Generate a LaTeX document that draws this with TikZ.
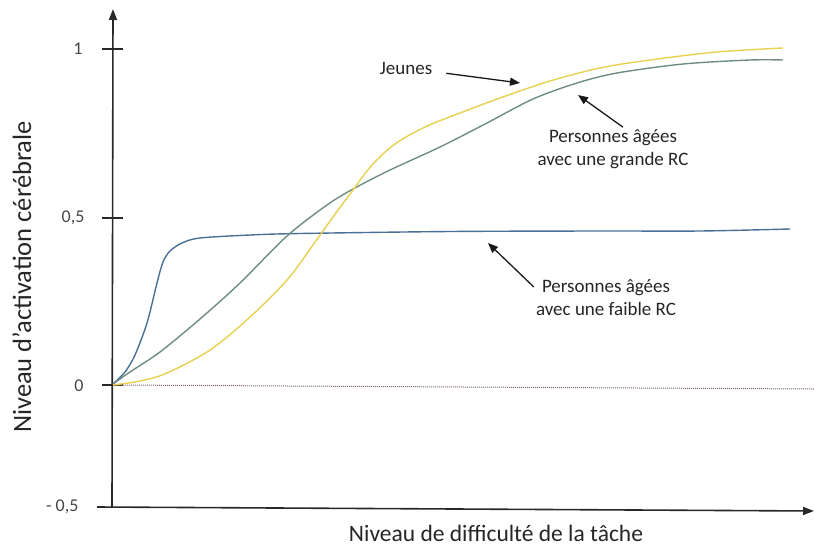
\documentclass[tikz,border=0pt]{standalone}
\usepackage{fontspec}
\setmainfont{Carlito}
\usepackage{tikz}
\usetikzlibrary{arrows.meta}

\definecolor{axisgray}{RGB}{40,40,40}
\definecolor{labelgray}{RGB}{70,70,70}
\definecolor{faiblecol}{RGB}{74,112,150}
\definecolor{grandecol}{RGB}{110,140,130}
\definecolor{jeunescol}{RGB}{232,208,80}
\definecolor{zerocol}{RGB}{130,105,105}

\begin{document}
\begin{tikzpicture}[x=1pt, y=-1pt,
    axis/.style={draw=axisgray, line width=1.6pt},
    ticklabel/.style={text=labelgray, font=\fontsize{18}{20}\selectfont},
    curve/.style={line width=1.4pt},
    note/.style={align=center, text=black!85, inner sep=2pt,
      font=\fontsize{19}{23}\selectfont},
    pointer/.style={draw=black!90, line width=1.3pt,
      -{Triangle[length=10pt,width=8pt]}}]
        \useasboundingbox (0,0) rectangle (814,554);

        % Axes
        \draw[axis, -{Triangle[length=11pt,width=8pt]}] (112,507) -- (113,9);
        \draw[axis, -{Triangle[length=11pt,width=8pt]}] (97,507) -- (814,511);

        % Ticks on the vertical axis
        \foreach \y in {49,218,385}
            \draw[axis, line width=1.4pt] (102,\y) -- (123,\y);

        % Tick labels
        \node[ticklabel] (tone) at (78,49) {1};
        \node[ticklabel] (thalf) at (73,218) {0,5};
        \node[ticklabel] (tzero) at (79,386) {0};
        \node[ticklabel, anchor=east] (tminus) at (82,507) {- 0,5};

        % Axis titles
        \node[rotate=90, text=black!85, font=\fontsize{26.5}{30}\selectfont]
            (ylab) at (22,277) {Niveau d'activation cérébrale};
        \node[text=black!85, font=\fontsize{23.5}{26}\selectfont]
            (xlab) at (496,533) {Niveau de difficulté de la tâche};

        % Zero level (dotted)
        \draw[zerocol, line width=1pt, dash pattern=on 1pt off 1pt]
            (113,385) -- (814,389);

        % Personnes agees, faible RC
        \draw[curve, faiblecol] plot[smooth, tension=0.5] coordinates {
            (113,384) (125,372) (135,355) (147,323) (157,283) (163,262)
            (170,251) (182,243) (200,238) (250,235) (300,233.5)
            (450,231.5) (600,231) (700,231) (790,229)};

        % Personnes agees, grande RC
        \draw[curve, grandecol] plot[smooth, tension=0.5] coordinates {
            (113,384) (130,372) (160,352) (200,319) (240,283) (287,236)
            (327,205) (353,189) (390,170) (440,147) (487,123) (533,99)
            (577,83) (617,73) (683,64) (750,60) (783,60)};

        % Jeunes
        \draw[curve, jeunescol] plot[smooth, tension=0.55] coordinates {
            (113,385) (140,381) (167,373) (210,350) (250,317) (287,280)
            (313,245) (333,217) (353,190) (372,165) (395,144) (425,127)
            (460,113) (500,98) (550,81) (600,68) (650,60) (717,52) (783,48)};

        % Annotations
        \node[note] (jeunes) at (406,68) {Jeunes};
        \node[note] (grande) at (613,149) {Personnes âgées\\avec une grande RC};
        \node[note] (faible) at (606,298) {Personnes âgées\\avec une faible RC};

        \coordinate (jtip) at (520,83);
        \coordinate (gtip) at (578,95);
        \coordinate (ftip) at (488,243);

        \draw[pointer, shorten <=12pt] (jeunes) -- (jtip);
        \draw[pointer] ([xshift=10pt]grande.north) -- (gtip);
        \draw[pointer] ([yshift=11pt]faible.west) -- (ftip);
    \end{tikzpicture}
\end{document}
